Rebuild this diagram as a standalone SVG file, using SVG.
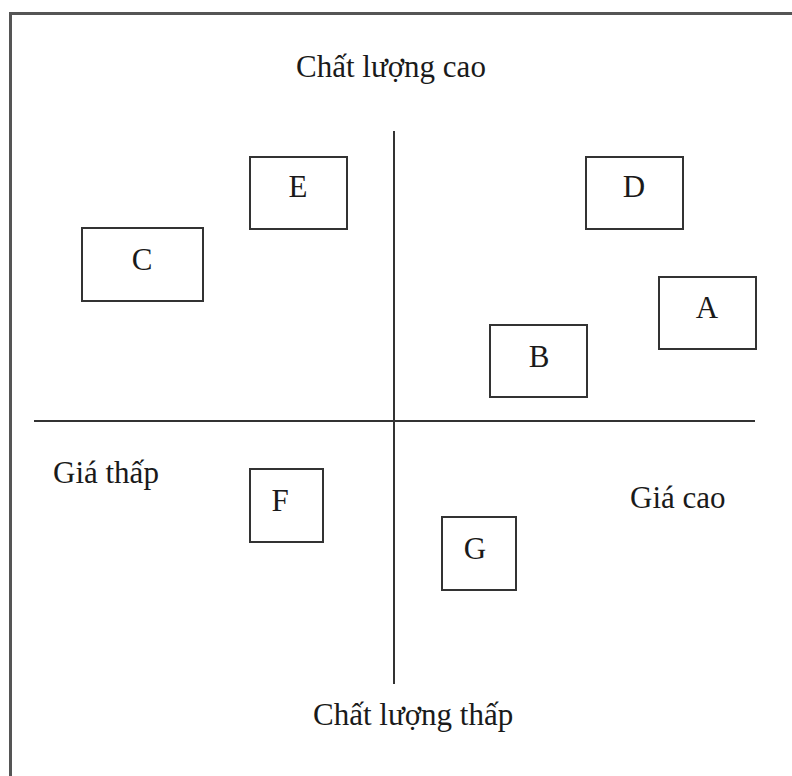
<svg xmlns="http://www.w3.org/2000/svg" width="792" height="776" viewBox="0 0 792 776">
<style>
.frame{fill:none;stroke:#555;stroke-width:3}
.box{fill:#fff;stroke:#333;stroke-width:2}
.axis{stroke:#333;stroke-width:2}
text{font-family:"Liberation Serif","Times New Roman",serif;font-size:31px;fill:#1a1a1a}
.c{text-anchor:middle}
</style>
<rect x="0" y="0" width="792" height="776" fill="#fff"/>
<rect class="frame" x="10.5" y="13.5" width="790" height="770"/>
<g id="connectors">
<line class="axis" x1="394" y1="131" x2="394" y2="684"/>
<line class="axis" x1="34" y1="421" x2="755" y2="421"/>
</g>
<g id="labels">
<text x="296" y="77">Chất lượng cao</text>
<text x="313" y="725">Chất lượng thấp</text>
<text x="53" y="483">Giá thấp</text>
<text x="630" y="508">Giá cao</text>
</g>
<g id="C"><rect class="box" x="82" y="228" width="121" height="73"/><text class="c" x="142" y="270">C</text></g>
<g id="E"><rect class="box" x="250" y="157" width="97" height="72"/><text class="c" x="298" y="197">E</text></g>
<g id="D"><rect class="box" x="586" y="157" width="97" height="72"/><text class="c" x="634" y="197">D</text></g>
<g id="A"><rect class="box" x="659" y="277" width="97" height="72"/><text class="c" x="707" y="318">A</text></g>
<g id="B"><rect class="box" x="490" y="325" width="97" height="72"/><text class="c" x="539" y="367">B</text></g>
<g id="F"><rect class="box" x="250" y="469" width="73" height="73"/><text class="c" x="280" y="511">F</text></g>
<g id="G"><rect class="box" x="442" y="517" width="74" height="73"/><text class="c" x="475" y="559">G</text></g>
</svg>
